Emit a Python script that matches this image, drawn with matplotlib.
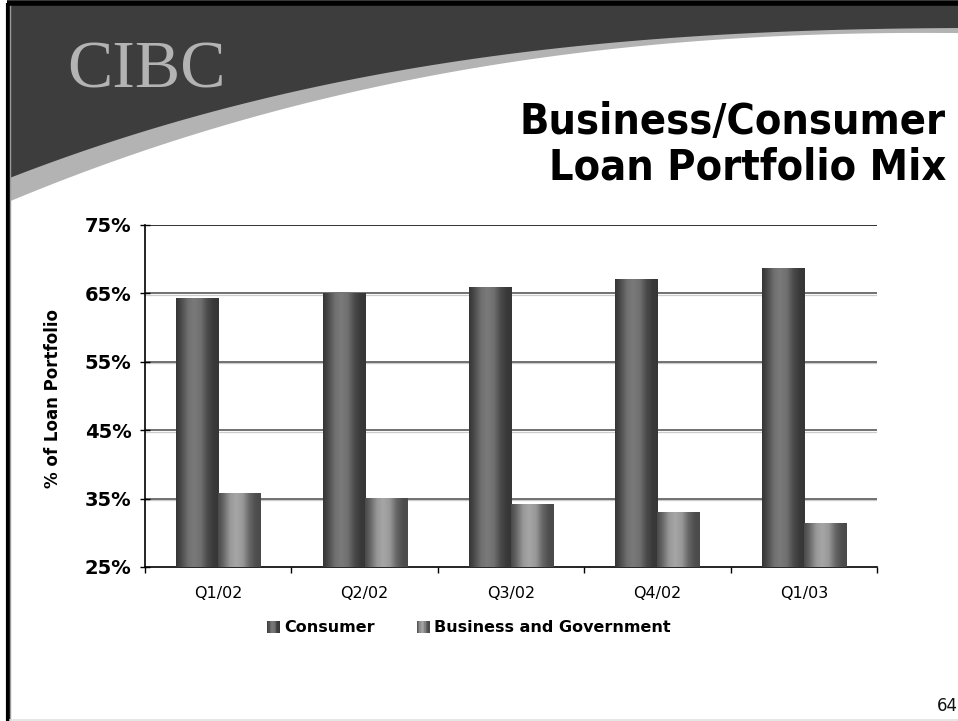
import numpy as np
import matplotlib
matplotlib.use("Agg")
import matplotlib.pyplot as plt
from matplotlib.patches import Rectangle, Patch, Polygon
from matplotlib.legend_handler import HandlerBase

# ---- data -------------------------------------------------------------
quarters = ["Q1/02", "Q2/02", "Q3/02", "Q4/02", "Q1/03"]
consumer = [64.2, 65.0, 65.9, 67.1, 68.6]
business = [35.8, 35.0, 34.1, 32.9, 31.4]
series_names = ["Consumer", "Business and Government"]
y_ticks = [25, 35, 45, 55, 65, 75]

W, H = 958, 721
fig = plt.figure(figsize=(W / 100, H / 100), dpi=100)

# ---- slide background (header swoosh, border) --------------------------
bg = fig.add_axes([0, 0, 1, 1], zorder=-10)
bg.set_xlim(0, W)
bg.set_ylim(H, 0)
bg.axis("off")

xs = np.linspace(8, W, 300)
dark_pts = ([8, 100, 200, 320, 600, 958], [178, 147, 114, 86, 44, 28])
band_pts = ([8, 100, 200, 320, 600, 958], [201, 168, 133, 98, 51, 33])
dark_edge = np.polyval(np.polyfit(*dark_pts, 3), xs)
band_edge = np.polyval(np.polyfit(*band_pts, 3), xs)

band_poly = np.vstack([np.column_stack([xs, np.full_like(xs, 3)]),
                       np.column_stack([xs[::-1], band_edge[::-1]])])
bg.add_patch(Polygon(band_poly, closed=True, facecolor="#b3b3b3", edgecolor="none"))
dark_poly = np.vstack([np.column_stack([xs, np.full_like(xs, 3)]),
                       np.column_stack([xs[::-1], dark_edge[::-1]])])
bg.add_patch(Polygon(dark_poly, closed=True, facecolor="#3d3d3d", edgecolor="none"))

# slide frame
bg.plot([8, 8], [3, H], color="black", lw=3, solid_capstyle="butt")
bg.plot([10.5, 10.5], [3, H], color="#9a9a9a", lw=1, solid_capstyle="butt")
bg.plot([7, W], [2.5, 2.5], color="black", lw=4, solid_capstyle="butt")
bg.plot([10, W], [H - 1.5, H - 1.5], color="#e2e2e2", lw=1.2)

bg.text(67, 88, "CIBC", fontsize=49, family=["Liberation Serif", "DejaVu Serif"],
        color="#b3b3b3", ha="left", va="baseline")
bg.text(946, 134, "Business/Consumer", fontsize=31, fontweight="bold",
        family=["DejaVu Sans"], fontstretch="condensed", ha="right", va="baseline")
bg.text(946, 179, "Loan Portfolio Mix", fontsize=31, fontweight="bold",
        family=["DejaVu Sans"], fontstretch="condensed", ha="right", va="baseline")
bg.text(937, 711, "64", fontsize=12, ha="left", va="baseline", color="#111111")

# ---- chart ------------------------------------------------------------
ax = fig.add_axes([145 / W, 1 - 567 / H, (877 - 145) / W, (567 - 225) / H])
ax.set_facecolor("none")

profile_t = [0.0, 0.1, 0.28, 0.42, 0.58, 0.74, 0.88, 1.0]
profile_v = [0.0, 0.25, 0.85, 1.0, 0.85, 0.3, 0.05, 0.0]
styles = {
    "Consumer": (54, 122),
    "Business and Government": (74, 166),
}


def shade(t, dark, light):
    v = (dark + (light - dark) * np.interp(t, profile_t, profile_v)) / 255.0
    return np.stack([v, v, v], axis=-1)


bar_w = 0.287
x = np.arange(len(quarters))
for name, vals, off in [(series_names[0], consumer, -bar_w / 2),
                        (series_names[1], business, bar_w / 2)]:
    dark, light = styles[name]
    bars = ax.bar(x + off, vals, width=bar_w, color="none", edgecolor="none", zorder=3)
    grad = shade(np.linspace(0, 1, 64), dark, light)[None, :, :]
    for b in bars:
        x0, w, h = b.get_x(), b.get_width(), b.get_height()
        ax.imshow(grad, extent=(x0, x0 + w, 0, h), aspect="auto",
                  interpolation="bilinear", zorder=3)

ax.set_xlim(-0.5, len(quarters) - 0.5)
ax.set_ylim(25, 75)

# grid
for yv in y_ticks[1:-1]:
    ax.axhline(yv, color="#4a4a4a", lw=1.1, zorder=1)
    ax.axhline(yv - 0.2, color="#cccccc", lw=0.9, zorder=0.9)
ax.axhline(75, color="#111111", lw=1.2, zorder=1)

for s in ["top", "right"]:
    ax.spines[s].set_visible(False)
for s in ["left", "bottom"]:
    ax.spines[s].set_color("black")
    ax.spines[s].set_linewidth(1.2)

ax.set_yticks(y_ticks)
ax.set_yticklabels([f"{v}%" for v in y_ticks], fontsize=14, fontweight="bold")
ax.tick_params(axis="y", direction="inout", length=7.2, width=1, pad=6)

ax.set_xticks(np.arange(len(quarters) + 1) - 0.5)
ax.set_xticklabels([])
ax.tick_params(axis="x", which="major", direction="out", length=4, width=1)
ax.set_xticks(x, minor=True)
ax.set_xticklabels(quarters, minor=True, fontsize=11.5)
ax.tick_params(axis="x", which="minor", length=0, pad=14)

fig.text(53 / W, 1 - 398 / H, "% of Loan Portfolio", rotation=90, fontsize=12,
         fontweight="bold", ha="center", va="center")


# legend with shaded swatches
class ShadedSwatch(HandlerBase):
    def __init__(self, dark, light):
        super().__init__()
        self.dark, self.light = dark, light

    def create_artists(self, legend, orig_handle, xdescent, ydescent, width,
                       height, fontsize, trans):
        n = 10
        cols = shade((np.arange(n) + 0.5) / n, self.dark, self.light)
        arts = []
        for k in range(n):
            arts.append(Rectangle((-xdescent + k * width / n, -ydescent),
                                  width / n * 1.05, height, facecolor=cols[k],
                                  edgecolor="none", transform=trans))
        return arts


handles = [Patch(label=n) for n in series_names]
hmap = {h: ShadedSwatch(*styles[h.get_label()]) for h in handles}
fig.legend(handles=handles, handler_map=hmap, loc="center",
           bbox_to_anchor=(469 / W, 1 - 628 / H), ncol=2, frameon=False,
           prop={"size": 11.5, "weight": "bold"}, handlelength=0.8,
           handleheight=0.8, handletextpad=0.3, columnspacing=2.6)

fig.savefig("out.png", dpi=100)
